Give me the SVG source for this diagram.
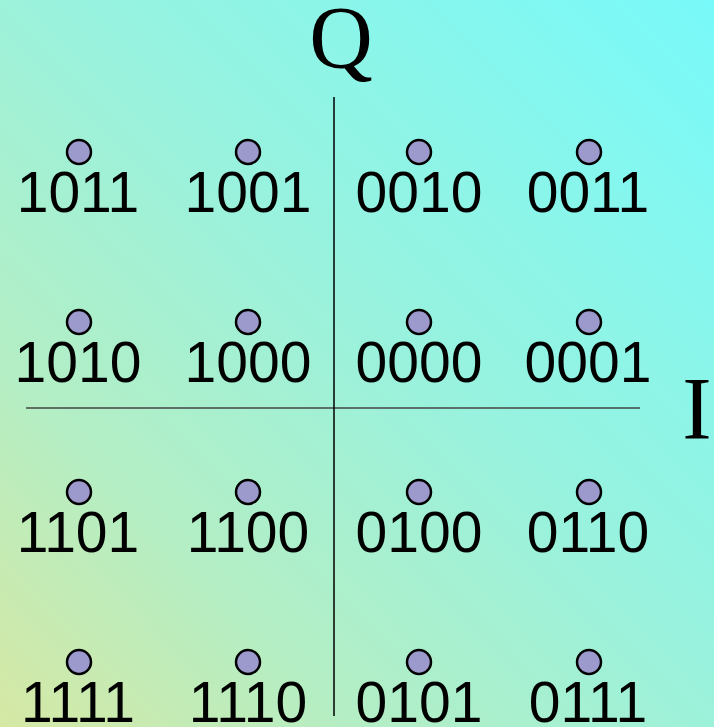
<svg xmlns="http://www.w3.org/2000/svg" width="714" height="727" viewBox="0 0 714 727">
<defs>
<linearGradient id="bg" x1="0" y1="1" x2="1" y2="0">
<stop offset="0" stop-color="#d6e8a4"/>
<stop offset="0.25" stop-color="#b4eec4"/>
<stop offset="0.55" stop-color="#98f2de"/>
<stop offset="1" stop-color="#78fafa"/>
</linearGradient>
<style>
.pt circle{fill:#9c9acc;stroke:#000;stroke-width:2.5}
.pt text{font-family:"Liberation Sans",Arial,sans-serif;font-size:57px;fill:#000;text-anchor:middle}
.ax{font-family:"Liberation Serif","Times New Roman",serif;font-size:88px;fill:#000;text-anchor:middle}
</style>
</defs>
<rect width="714" height="727" fill="url(#bg)"/>
<g id="axes">
<line x1="26" y1="408" x2="640" y2="408" stroke="#444" stroke-width="1.5"/>
<line x1="334" y1="97" x2="334" y2="716" stroke="#000" stroke-width="1.5"/>
<text class="ax" x="341" y="67">Q</text>
<text class="ax" x="697" y="438">I</text>
</g>
<g id="p1011" class="pt"><circle cx="79" cy="152" r="12"/><text x="78" y="212">1011</text></g>
<g id="p1001" class="pt"><circle cx="248" cy="152" r="12"/><text x="248" y="212">1001</text></g>
<g id="p0010" class="pt"><circle cx="419" cy="152" r="12"/><text x="419" y="212">0010</text></g>
<g id="p0011" class="pt"><circle cx="589" cy="152" r="12"/><text x="588" y="212">0011</text></g>
<g id="p1010" class="pt"><circle cx="79" cy="322" r="12"/><text x="78" y="382">1010</text></g>
<g id="p1000" class="pt"><circle cx="248" cy="322" r="12"/><text x="248" y="382">1000</text></g>
<g id="p0000" class="pt"><circle cx="419" cy="322" r="12"/><text x="419" y="382">0000</text></g>
<g id="p0001" class="pt"><circle cx="589" cy="322" r="12"/><text x="588" y="382">0001</text></g>
<g id="p1101" class="pt"><circle cx="79" cy="492" r="12"/><text x="78" y="552">1101</text></g>
<g id="p1100" class="pt"><circle cx="248" cy="492" r="12"/><text x="248" y="552">1100</text></g>
<g id="p0100" class="pt"><circle cx="419" cy="492" r="12"/><text x="419" y="552">0100</text></g>
<g id="p0110" class="pt"><circle cx="589" cy="492" r="12"/><text x="588" y="552">0110</text></g>
<g id="p1111" class="pt"><circle cx="79" cy="662" r="12"/><text x="78" y="722">1111</text></g>
<g id="p1110" class="pt"><circle cx="248" cy="662" r="12"/><text x="248" y="722">1110</text></g>
<g id="p0101" class="pt"><circle cx="419" cy="662" r="12"/><text x="419" y="722">0101</text></g>
<g id="p0111" class="pt"><circle cx="589" cy="662" r="12"/><text x="588" y="722">0111</text></g>
</svg>
